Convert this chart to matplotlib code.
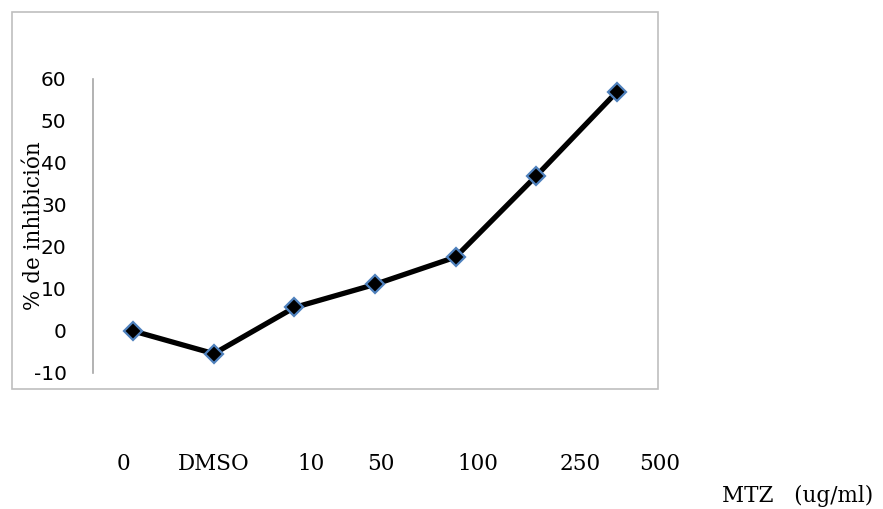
import matplotlib
matplotlib.use("Agg")
import matplotlib.pyplot as plt
from matplotlib.patches import Rectangle

# ---- data ----
categories = ["0", "DMSO", "10", "50", "100", "250", "500"]
inhibition = [0.0, -5.4, 5.6, 11.1, 17.6, 36.9, 56.9]
yticks = [-10, 0, 10, 20, 30, 40, 50, 60]
ylabel = "% de inhibición"
xlabel = "MTZ   (ug/ml)"

W, H = 883, 509
fig = plt.figure(figsize=(W / 100, H / 100), dpi=100)

def fx(px):
    return px / W

def fy(py):
    return 1 - py / H

# outer chart frame
fig.patches.append(Rectangle((fx(12), fy(389)), fx(658) - fx(12), fy(12) - fy(389),
                             transform=fig.transFigure, fill=False,
                             edgecolor="#BFBFBF", linewidth=1.2))

ax = fig.add_axes([fx(93), fy(373), fx(657) - fx(93), fy(79) - fy(373)])
x = list(range(len(categories)))
ax.plot(x, inhibition, color="black", linewidth=3.8, marker="D", markersize=9.5,
        markerfacecolor="black", markeredgecolor="#4F81BD", markeredgewidth=1.6,
        solid_joinstyle="round", zorder=3)

ax.set_xlim(-0.5, len(categories) - 0.5)
ax.set_ylim(-10, 60)
ax.set_yticks(yticks)
ax.set_yticklabels([str(v) for v in yticks], fontsize=14.5, family="DejaVu Sans")
ax.tick_params(axis="y", length=0, pad=19)
ax.set_xticks([])
for s in ["top", "right", "bottom"]:
    ax.spines[s].set_visible(False)
ax.spines["left"].set_color("#A6A6A6")
ax.spines["left"].set_linewidth(1.2)
ax.patch.set_alpha(0)

# y label (overlapping tick labels as in the reference)
fig.text(fx(34), fy(226), ylabel, rotation=90, ha="center", va="center",
         fontsize=15.5, family="DejaVu Serif")

# category labels placed below the chart frame
label_x = [123, 214, 311, 381, 478, 580, 660]
for lx, lab in zip(label_x, categories):
    fig.text(fx(lx), fy(464), lab, ha="center", va="center",
             fontsize=15.5, family="DejaVu Serif")

fig.text(fx(798), fy(496), xlabel, ha="center", va="center",
         fontsize=15.5, family="DejaVu Serif")

fig.savefig("out.png", dpi=100)
